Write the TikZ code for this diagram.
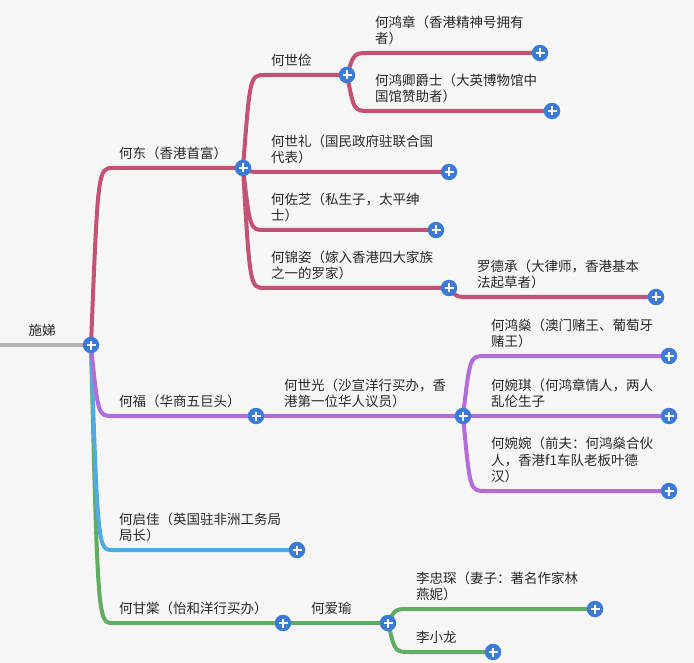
\documentclass[tikz,border=0pt]{standalone}
\usepackage{fontspec}
\newfontfamily\cjk{Noto Sans CJK SC}
\usepackage{tikz}
\usetikzlibrary{calc, backgrounds}
\definecolor{bgcolor}{RGB}{246,246,246}
\definecolor{rootcolor}{RGB}{178,178,178}
\definecolor{dongcolor}{RGB}{196,82,114}
\definecolor{fucolor}{RGB}{178,108,218}
\definecolor{jiacolor}{RGB}{82,170,226}
\definecolor{tangcolor}{RGB}{96,172,96}
\definecolor{pluscolor}{RGB}{60,122,216}
\definecolor{labelcolor}{RGB}{40,40,40}

\begin{document}
\begin{tikzpicture}[
    x=1pt, y=-1pt,
    plus/.style={circle, fill=pluscolor, minimum size=16.5pt, inner sep=0pt,
        path picture={\draw[white, line width=2pt]
            (path picture bounding box.center) +(-4.5pt,0) -- +(4.5pt,0)
            (path picture bounding box.center) +(0,-4.5pt) -- +(0,4.5pt);}},
    branch/.style={line width=4pt,
        to path={.. controls ($(\tikztostart |- \tikztotarget)+(7,0)$) .. ($(\tikztostart |- \tikztotarget)+(22,0)$) -- (\tikztotarget)}},
    person/.style={font=\cjk\fontsize{13.5}{16.5}\selectfont, text=labelcolor, align=left, anchor=south west, inner sep=0pt}
]
\useasboundingbox (0,0) rectangle (694,663);

% plus knobs
\node[plus] (root) at (91,345) {};
\node[plus] (hedong) at (243,168) {};
\node[plus] (hefu) at (256,416) {};
\node[plus] (heqijia) at (297,550) {};
\node[plus] (hegantang) at (283,623) {};
\node[plus] (heshijian) at (347,75) {};
\node[plus] (heshili) at (449,172) {};
\node[plus] (hezuozhi) at (436,230) {};
\node[plus] (hejinzi) at (449,288) {};
\node[plus] (hehongzhang) at (540,53) {};
\node[plus] (hehongqing) at (552,111) {};
\node[plus] (luodecheng) at (656,297) {};
\node[plus] (heshiguang) at (463,416) {};
\node[plus] (hehongshen) at (669,356) {};
\node[plus] (hewanqi) at (669,416) {};
\node[plus] (hewanwan) at (669,491) {};
\node[plus] (heaiyu) at (388,623) {};
\node[plus] (lizhongchen) at (595,609) {};
\node[plus] (lixiaolong) at (493,652) {};
\coordinate (start) at (0,345);

% labels
\node[person, anchor=south] (root-l) at (42,337) {施娣};
\node[person] (hedong-l) at (119,160) {何东（香港首富）};
\node[person] (hefu-l) at (119,408) {何福（华商五巨头）};
\node[person] (heqijia-l) at (119,542) {何启佳（英国驻非洲工务局\\局长）};
\node[person] (hegantang-l) at (119,615) {何甘棠（怡和洋行买办）};
\node[person] (heshijian-l) at (271,67) {何世俭};
\node[person] (heshili-l) at (271,164) {何世礼（国民政府驻联合国\\代表）};
\node[person] (hezuozhi-l) at (271,222) {何佐芝（私生子，太平绅\\士）};
\node[person] (hejinzi-l) at (271,280) {何锦姿（嫁入香港四大家族\\之一的罗家）};
\node[person] (hehongzhang-l) at (375,45) {何鸿章（香港精神号拥有\\者）};
\node[person] (hehongqing-l) at (375,103) {何鸿卿爵士（大英博物馆中\\国馆赞助者）};
\node[person] (luodecheng-l) at (477,289) {罗德承（大律师，香港基本\\法起草者）};
\node[person] (heshiguang-l) at (284,408) {何世光（沙宣洋行买办，香\\港第一位华人议员）};
\node[person] (hehongshen-l) at (491,348) {何鸿燊（澳门赌王、葡萄牙\\赌王）};
\node[person] (hewanqi-l) at (491,408) {何婉琪（何鸿章情人，两人\\乱伦生子};
\node[person] (hewanwan-l) at (491,483) {何婉婉（前夫：何鸿燊合伙\\人，香港f1车队老板叶德\\汉）};
\node[person] (heaiyu-l) at (311,615) {何爱瑜};
\node[person] (lizhongchen-l) at (416,601) {李忠琛（妻子：著名作家林\\燕妮）};
\node[person] (lixiaolong-l) at (416,644) {李小龙};

\begin{scope}[on background layer]
\fill[bgcolor] (0,0) rectangle (694,663);
\draw[rootcolor, line width=4pt] (start) -- (root.center);
% 何东
\draw[dongcolor, branch] (root.center) to (hedong.center);
\draw[dongcolor, branch] (hedong.center) to (heshijian.center);
\draw[dongcolor, branch] (hedong.center) to (heshili.center);
\draw[dongcolor, branch] (hedong.center) to (hezuozhi.center);
\draw[dongcolor, branch] (hedong.center) to (hejinzi.center);
\draw[dongcolor, branch] (heshijian.center) to (hehongzhang.center);
\draw[dongcolor, branch] (heshijian.center) to (hehongqing.center);
\draw[dongcolor, branch] (hejinzi.center) to (luodecheng.center);
% 何甘棠
\draw[tangcolor, branch] (root.center) to (hegantang.center);
\draw[tangcolor, branch] (hegantang.center) to (heaiyu.center);
\draw[tangcolor, branch] (heaiyu.center) to (lizhongchen.center);
\draw[tangcolor, branch] (heaiyu.center) to (lixiaolong.center);
% 何启佳
\draw[jiacolor, branch] (root.center) to (heqijia.center);
% 何福
\draw[fucolor, branch] (root.center) to (hefu.center);
\draw[fucolor, branch] (hefu.center) to (heshiguang.center);
\draw[fucolor, branch] (heshiguang.center) to (hehongshen.center);
\draw[fucolor, branch] (heshiguang.center) to (hewanqi.center);
\draw[fucolor, branch] (heshiguang.center) to (hewanwan.center);
\end{scope}

\end{tikzpicture}
\end{document}
